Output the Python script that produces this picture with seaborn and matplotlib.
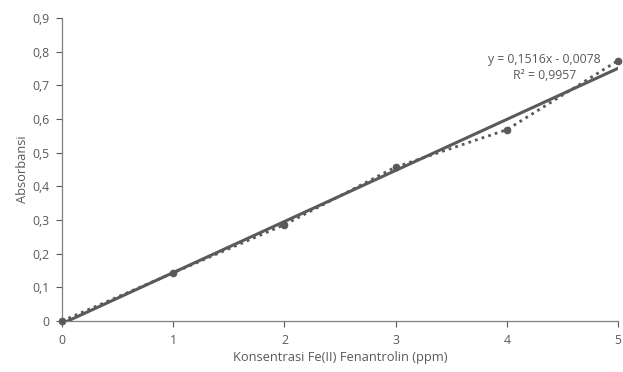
import numpy as np
import pandas as pd
import matplotlib
matplotlib.use('Agg')
import matplotlib.pyplot as plt
import seaborn as sns

# data
konsentrasi = [0, 1, 2, 3, 4, 5]
absorbansi = [0.0, 0.143, 0.286, 0.457, 0.568, 0.773]
slope = 0.1516
intercept = -0.0078
y_ticks = [0, 0.1, 0.2, 0.3, 0.4, 0.5, 0.6, 0.7, 0.8, 0.9]
y_ticklabels = ['0', '0,1', '0,2', '0,3', '0,4', '0,5', '0,6', '0,7', '0,8', '0,9']

df = pd.DataFrame({'x': konsentrasi, 'y': absorbansi})
fit = pd.DataFrame({'x': [0, 5]})
fit['y'] = slope * fit['x'] + intercept

sns.set_style('white')
plt.rcParams['font.family'] = ['Open Sans', 'DejaVu Sans']

grey = '#595959'
fig = plt.figure(figsize=(6.23, 3.72), dpi=100)
ax = fig.add_axes([0.0995, 0.137, 0.8925, 0.815])

sns.lineplot(data=df, x='x', y='y', ax=ax, color=grey, linestyle=(0, (1, 1.5)),
             linewidth=2, zorder=2)
sns.lineplot(data=fit, x='x', y='y', ax=ax, color='#5a5a5a', linewidth=2.2, zorder=3)
sns.scatterplot(data=df, x='x', y='y', ax=ax, color=grey, s=26, edgecolor=grey,
                zorder=4, clip_on=False)

ax.set_xlim(0, 5)
ax.set_ylim(0, 0.9)
ax.set_xticks(konsentrasi)
ax.set_yticks(y_ticks)
ax.set_yticklabels(y_ticklabels)
ax.set_xlabel('Konsentrasi Fe(II) Fenantrolin (ppm)', color=grey, fontsize=9.3, labelpad=3)
ax.set_ylabel('Absorbansi', color=grey, fontsize=9.3, labelpad=2)
ax.tick_params(axis='both', colors=grey, labelsize=8.8, length=4, width=0.8,
               direction='out', bottom=True, left=True, labelcolor=grey, pad=5)
for side in ['top', 'right']:
    ax.spines[side].set_visible(False)
for side in ['left', 'bottom']:
    ax.spines[side].set_color('#7f7f7f')
    ax.spines[side].set_linewidth(0.9)

ax.text(4.34, 0.752, 'y = 0,1516x - 0,0078\nR² = 0,9957', ha='center', va='center',
        fontsize=8.8, color=grey, linespacing=1.3)

fig.savefig('out.png', dpi=100)
